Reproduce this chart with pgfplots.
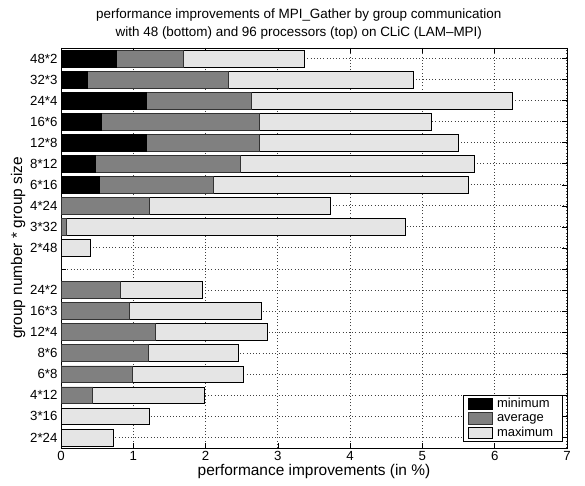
\documentclass[border=0pt]{standalone}
\usepackage{fontspec}
\setmainfont{Liberation Sans}
\usepackage{pgfplots}
\usepackage{pgfplotstable}
\pgfplotsset{compat=1.18}

\definecolor{avgc}{gray}{0.5}
\definecolor{maxc}{gray}{0.9}

\pgfplotstableread{
y v
1 0.72
2 1.22
3 1.98
4 2.52
5 2.46
6 2.86
7 2.77
8 1.96
9 0.0
10 0.40
11 4.77
12 3.72
13 5.63
14 5.72
15 5.50
16 5.12
17 6.25
18 4.88
19 3.37
}\maxtab

\pgfplotstableread{
y v
3 0.44
4 0.99
5 1.21
6 1.31
7 0.94
8 0.82
11 0.07
12 1.22
13 2.11
14 2.48
15 2.75
16 2.75
17 2.63
18 2.32
19 1.69
}\avgtab

\pgfplotstableread{
y v
13 0.53
14 0.47
15 1.18
16 0.56
17 1.18
18 0.36
19 0.76
}\mintab

\begin{document}
\begin{tikzpicture}
\useasboundingbox (-61bp,-38bp) rectangle (524bp,448bp);
\begin{axis}[
  at={(0,0)}, anchor=south west,
  scale only axis, width=506bp, height=400bp,
  xbar, bar width=0.8,
  xmin=0, xmax=7, ymin=0.5, ymax=19.5,
  xtick={0,1,...,7},
  ytick={1,2,...,19},
  yticklabels={2*24,3*16,4*12,6*8,8*6,12*4,16*3,24*2,,2*48,3*32,4*24,6*16,8*12,12*8,16*6,24*4,32*3,48*2},
  /pgf/number format/assume math mode=true,
  tick align=inside, xtick pos=both, ytick pos=both,
  major tick length=5bp,
  every tick/.style={black, line width=0.6bp},
  axis line style={black, line width=0.8bp},
  grid=major,
  every major grid/.style={black!75, line width=1bp, dash pattern=on 1bp off 2.2bp},
  ticklabel style={font=\fontsize{13.3}{16}\selectfont},
  xlabel={performance improvements (in \%)},
  ylabel={group number * group size},
  label style={font=\fontsize{15.5}{18}\selectfont},
  xlabel style={yshift=3bp},
  ylabel style={yshift=-2bp},
  title={performance improvements of MPI\_Gather by group communication\\with 48 (bottom) and 96 processors (top) on CLiC (LAM\textendash MPI)},
  title style={align=center, font=\fontsize{13.5}{18}\selectfont, at={(0.47,1)}, yshift=-1bp},
  reverse legend,
  legend cell align=left,
  legend style={at={(0.992,0.015)}, anchor=south east, draw=black, line width=0.6bp,
    font=\fontsize{13}{14}\selectfont, inner xsep=5bp, inner ysep=3bp, row sep=3bp,
    nodes={inner xsep=4.5bp, inner ysep=0bp}},
  legend image code/.code={\draw[#1, line width=0.6bp] (0bp,-5.5bp) rectangle (24bp,5.5bp);},
]
\addplot[bar shift=0pt, fill=maxc, draw=black, line width=0.7bp] table[x=v, y=y] {\maxtab};
\addplot[bar shift=0pt, fill=avgc, draw=black!80, line width=0.7bp] table[x=v, y=y] {\avgtab};
\addplot[bar shift=0pt, fill=black, draw=black, line width=0.7bp] table[x=v, y=y] {\mintab};
\legend{maximum, average, minimum}
\end{axis}
\end{tikzpicture}
\end{document}
